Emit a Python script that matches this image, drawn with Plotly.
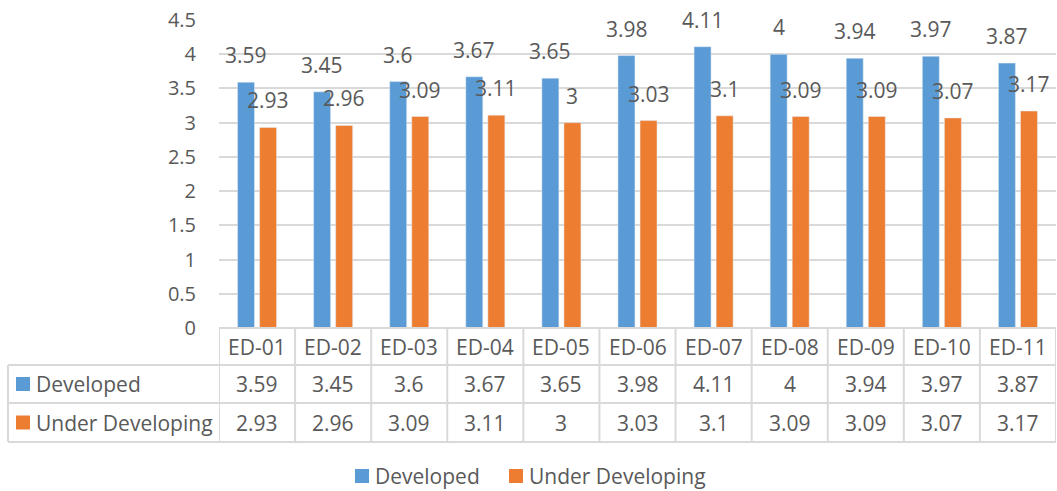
import plotly.graph_objects as go

categories = ["ED-01", "ED-02", "ED-03", "ED-04", "ED-05", "ED-06", "ED-07", "ED-08", "ED-09", "ED-10", "ED-11"]
developed = [3.59, 3.45, 3.6, 3.67, 3.65, 3.98, 4.11, 4, 3.94, 3.97, 3.87]
under_developing = [2.93, 2.96, 3.09, 3.11, 3, 3.03, 3.1, 3.09, 3.09, 3.07, 3.17]
series_names = ["Developed", "Under Developing"]
y_ticks = [0, 0.5, 1, 1.5, 2, 2.5, 3, 3.5, 4, 4.5]

BLUE = "#5B9BD5"
ORANGE = "#ED7D31"
TXT = "#595959"
GRID = "#D9D9D9"
FONT = "Open Sans"
FS = 21
DY = 0  # vertical text correction

W_FIG, H_FIG = 1057, 491
L, R, T, B = 219, 1056, 20, 328
PW, PH = R - L, B - T


def py(p):
    return (B - p) / PH


def px(p):
    return (p - L) / PW


fig = go.Figure()
fig.add_trace(go.Bar(x=categories, y=developed, name=series_names[0], marker_color=BLUE))
fig.add_trace(go.Bar(x=categories, y=under_developing, name=series_names[1], marker_color=ORANGE))

annotations = []
shapes = []
tfont = dict(family=FONT, size=FS, color=TXT)

# data labels
for vals, shift in ((developed, -11), (under_developing, 11)):
    for c, v in zip(categories, vals):
        annotations.append(dict(x=c, y=v, xref="x", yref="y", text=str(v), showarrow=False,
                                yanchor="middle", yshift=27 + DY, xshift=shift, font=tfont))

# table
row_lines = [328, 365, 403, 442]
header_c = (row_lines[0] + row_lines[1]) / 2
row_c = [(row_lines[1] + row_lines[2]) / 2, (row_lines[2] + row_lines[3]) / 2]
lc = dict(color=GRID, width=2)
for i, c in enumerate(categories):
    annotations.append(dict(x=c, y=py(header_c), xref="x", yref="paper", text=c, showarrow=False,
                            yanchor="middle", yshift=DY, font=tfont))
    for vals, yc in ((developed, row_c[0]), (under_developing, row_c[1])):
        annotations.append(dict(x=c, y=py(yc), xref="x", yref="paper", text=str(vals[i]), showarrow=False,
                                yanchor="middle", yshift=DY, font=tfont))
# horizontal lines
shapes.append(dict(type="line", xref="paper", yref="paper", x0=0, x1=1, y0=py(row_lines[0]), y1=py(row_lines[0]), line=lc))
for rl in row_lines[1:]:
    shapes.append(dict(type="line", xref="paper", yref="paper", x0=px(8), x1=1, y0=py(rl), y1=py(rl), line=lc))
# vertical lines
for k in range(len(categories) + 1):
    shapes.append(dict(type="line", xref="x", yref="paper", x0=k - 0.5, x1=k - 0.5,
                       y0=py(row_lines[0]), y1=py(row_lines[3]), line=lc))
shapes.append(dict(type="line", xref="paper", yref="paper", x0=px(8), x1=px(8),
                   y0=py(row_lines[1]), y1=py(row_lines[3]), line=lc))
# row keys
for name, col, yc in ((series_names[0], BLUE, row_c[0]), (series_names[1], ORANGE, row_c[1])):
    shapes.append(dict(type="rect", xref="paper", yref="paper", x0=px(16), x1=px(30),
                       y0=py(yc + 7), y1=py(yc - 7), fillcolor=col, line=dict(width=0)))
    annotations.append(dict(x=px(34), y=py(yc), xref="paper", yref="paper", text=name, showarrow=False,
                            xanchor="left", yanchor="middle", yshift=DY, font=tfont))

# bottom legend
leg_y = 476
for name, col, x0 in ((series_names[0], BLUE, 355), (series_names[1], ORANGE, 509)):
    shapes.append(dict(type="rect", xref="paper", yref="paper", x0=px(x0), x1=px(x0 + 14),
                       y0=py(leg_y + 7), y1=py(leg_y - 7), fillcolor=col, line=dict(width=0)))
    annotations.append(dict(x=px(x0 + 18), y=py(leg_y), xref="paper", yref="paper", text=name, showarrow=False,
                            xanchor="left", yanchor="middle", yshift=DY, font=tfont))

fig.update_layout(
    width=W_FIG, height=H_FIG, autosize=False,
    margin=dict(l=L, r=W_FIG - R, t=T, b=H_FIG - B, pad=0),
    paper_bgcolor="white", plot_bgcolor="white",
    barmode="group", bargap=0.42, bargroupgap=0.23,
    showlegend=False,
    font=tfont,
    xaxis=dict(range=[-0.5, len(categories) - 0.5], showticklabels=False, showgrid=False,
               showline=False, zeroline=False, fixedrange=True),
    yaxis=dict(range=[0, 4.5], tickvals=y_ticks, ticktext=[f"{v:g}" for v in y_ticks],
               showgrid=True, gridcolor=GRID, gridwidth=2, zeroline=False, showline=False,
               ticks="", ticklabelstandoff=22, tickfont=dict(family=FONT, size=20, color=TXT)),
    annotations=annotations, shapes=shapes,
)

fig.write_html("out.html")
